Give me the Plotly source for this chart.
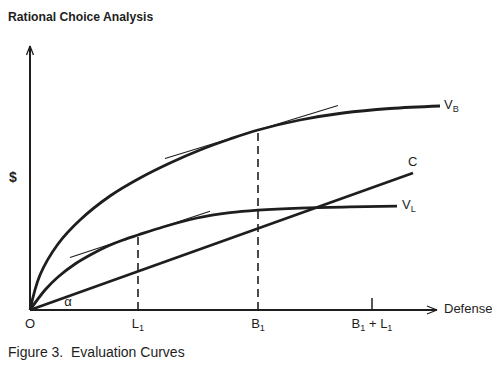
import plotly.graph_objects as go

# ---- data (defense units on x, $ on y) ----
vb_defense = [0, 10, 28, 50, 80, 110, 140, 170, 200, 228, 270, 313, 360, 410]
vb_value   = [0, 35, 66, 90, 114, 132, 147, 160, 171, 180, 190, 197, 201.5, 204]

vl_defense = [0, 15, 28, 45, 62, 78, 93, 108, 133, 167, 200, 228, 270, 320, 367]
vl_value   = [0, 20, 33, 46, 56, 64, 70, 75, 83, 92, 97.3, 99.8, 101.9, 103.1, 103.8]

c_defense = [0, 383]
c_cost    = [0, 137]

L1, B1, B1L1 = 108, 228, 342
vl_at_L1, vb_at_B1 = 75, 180
tan_L = dict(x0=40, x1=180, px=108, py=75, slope=0.33)
tan_B = dict(x0=135, x1=308, px=228, py=180, slope=0.306)

tick_pos = [0, L1, B1, B1L1]
tick_text = ["O", "L<sub>1</sub>", "B<sub>1</sub>", "B<sub>1</sub> + L<sub>1</sub>"]

x_end, y_end = 407, 264

INK = "#1e1e1e"
FONT = "Liberation Sans, Arial, sans-serif"

# the page body has an 8px margin: the figure is 8px smaller and its ranges start 8 units later
OFF = 8
W, H = 500 - OFF, 369 - OFF
X0, Y1 = -30 + OFF, 310 - OFF

fig = go.Figure()

def line(xs, ys, w, dash=None, shape="linear"):
    fig.add_trace(go.Scatter(x=xs, y=ys, mode="lines", hoverinfo="skip", line_shape=shape,
                             line=dict(color=INK, width=w, dash=dash), showlegend=False))

def text(x, y, s, pos, size=13):
    fig.add_trace(go.Scatter(x=[x], y=[y], mode="text", text=[s], textposition=pos,
                             textfont=dict(size=size, color=INK, family=FONT),
                             hoverinfo="skip", showlegend=False))

# axes
line([0, x_end], [0, 0], 2)
line([0, 0], [0, y_end], 2)
line([x_end - 10, x_end, x_end - 10], [4, 0, -4], 1.3)
line([-3.5, 0, 3.5], [y_end - 9, y_end, y_end - 9], 1.3)
line([B1L1, B1L1], [0, 12], 1.5)

# curves
line(vb_defense, vb_value, 2.8, shape="spline")
line(vl_defense, vl_value, 2.8, shape="spline")
line(c_defense, c_cost, 2.8)

# tangents
for t in (tan_L, tan_B):
    xs = [t["x0"], t["x1"]]
    ys = [t["py"] + t["slope"] * (x - t["px"]) for x in xs]
    line(xs, ys, 1.1)

# dashed verticals
line([L1, L1], [0, vl_at_L1], 1.6, dash="8px,5px")
line([B1, B1], [0, vb_at_B1], 1.6, dash="8px,5px")

# labels
for p, t in zip(tick_pos, tick_text):
    text(p, -15, t, "middle center")
text(x_end + 7, 0, "Defense", "middle right")
text(414, 204, "V<sub>B</sub>", "middle right")
text(378, 147, "C", "middle right")
text(372, 104, "V<sub>L</sub>", "middle right")
text(-17, 132, "<b>$</b>", "middle center", 14)
text(38, 7, "α", "middle center", 13)
text(X0, 310 - 18, "<b>Rational Choice Analysis</b>", "middle right", 12.2)
text(X0, 310 - 353, "Figure 3.  Evaluation Curves", "middle right", 14)

fig.update_layout(
    width=W, height=H,
    margin=dict(l=0, r=0, t=0, b=0),
    paper_bgcolor="white", plot_bgcolor="white",
    xaxis=dict(range=[X0, 470], visible=False, fixedrange=True),
    yaxis=dict(range=[-59, Y1], visible=False, fixedrange=True),
)

fig.write_html("out.html")
